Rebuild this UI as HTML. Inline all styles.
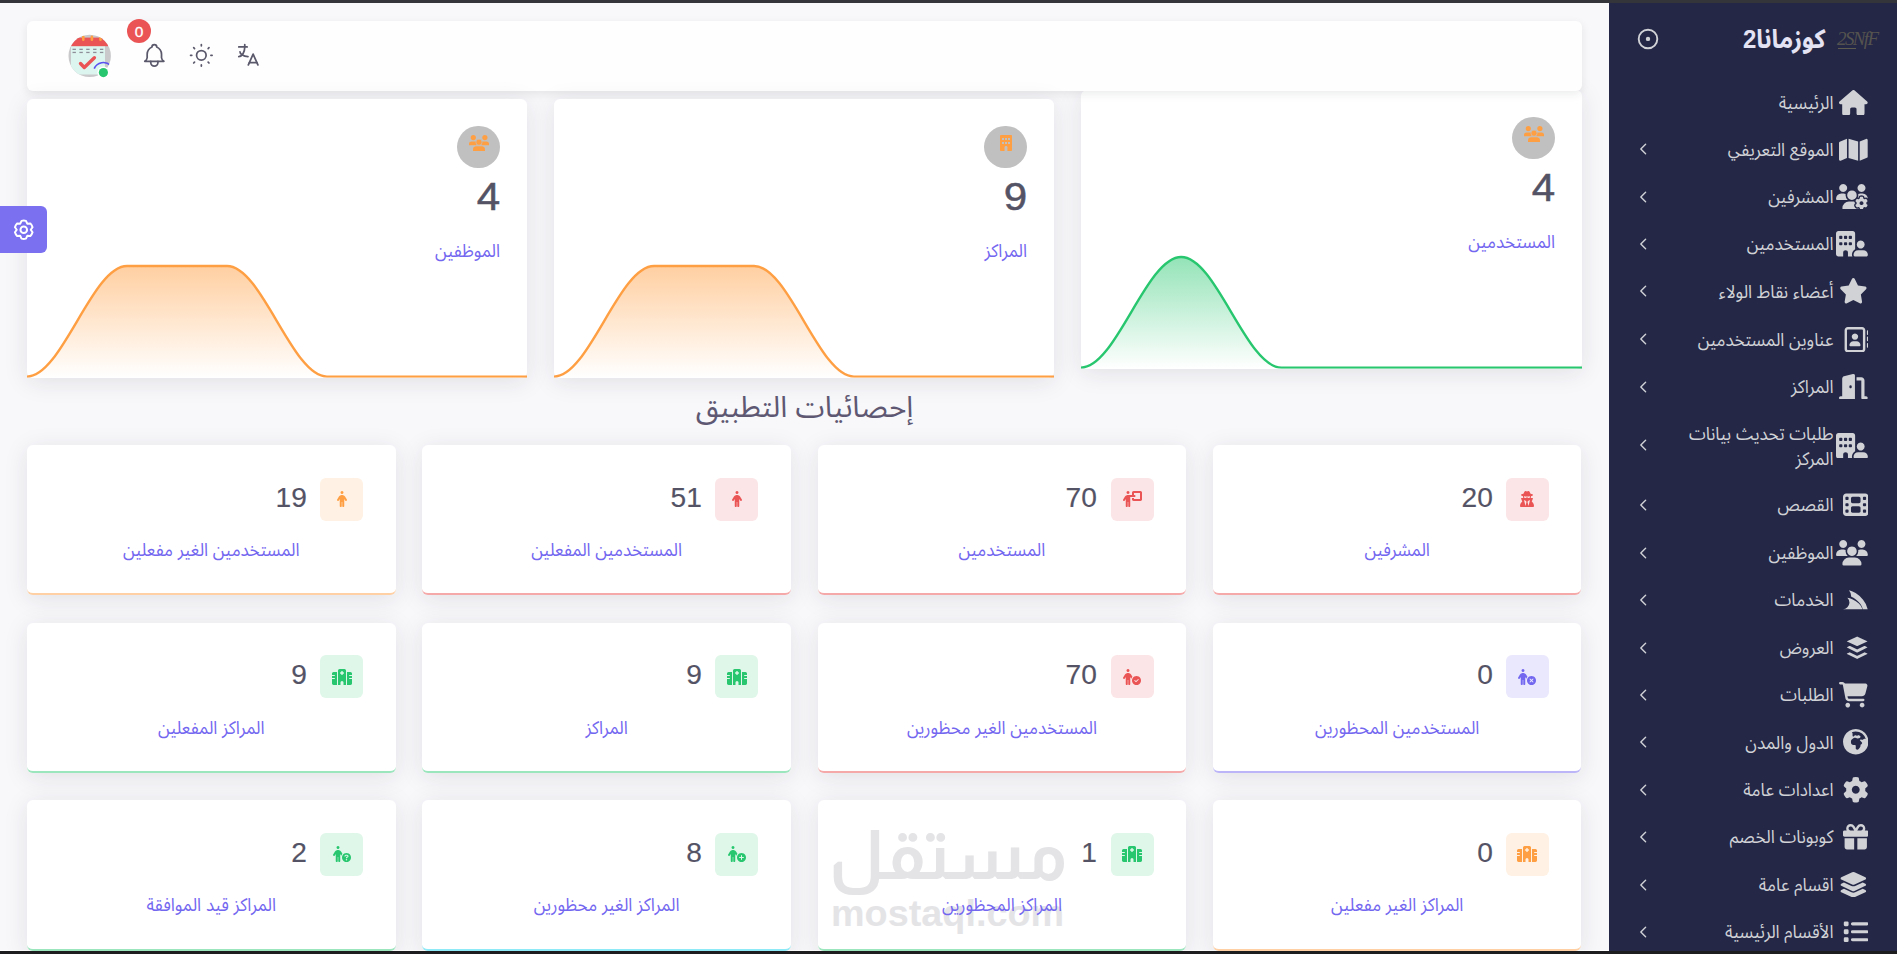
<!DOCTYPE html><html lang="ar" dir="rtl"><head><meta charset="utf-8"><title>لوحة التحكم</title>
<style>
*{box-sizing:border-box;margin:0;padding:0}
html,body{width:1897px;height:954px;overflow:hidden}
body{background:#f8f7fa;font-family:'Liberation Sans','Noto Sans Arabic UI','Noto Sans Arabic','DejaVu Sans',sans-serif;position:relative}
.abs{position:absolute;display:block;z-index:7}
.t{position:absolute;white-space:nowrap;line-height:1;direction:rtl;z-index:7}
.card{position:absolute;background:#fff;border-radius:6px;box-shadow:0 4px 24px 0 rgba(34,41,47,.1)}
.side{position:absolute;left:1609px;top:0;width:288px;height:954px;background:#242746}
.mi{color:#d0d2d6;font-size:17px;font-weight:370;transform:scaleY(1.07);transform-origin:50% 86%}
.lbl{color:#7367f0;font-size:17px;font-weight:370;transform:scaleY(1.07);transform-origin:50% 86%}
.num{color:#545366;font-family:'Liberation Sans',sans-serif;-webkit-text-stroke:0.15px #545366}
</style></head><body>
<div class="abs" style="left:0;top:950px;width:1609px;height:1px;background:#fff;z-index:0"></div>
<div class="card" style="left:27px;top:21px;width:1555px;height:70px;z-index:5;background:#fefefe;box-shadow:0 3px 10px 0 rgba(34,41,47,.09)">
</div>
<svg class="abs" style="left:67px;top:33px;z-index:6" width="46" height="46" viewBox="0 0 46 46">
<defs><clipPath id="avc"><circle cx="22.7" cy="22.9" r="21.2"/></clipPath></defs>
<circle cx="22.7" cy="22.9" r="21.2" fill="#c9c9cb"/>
<g clip-path="url(#avc)">
<rect x="4" y="13" width="34" height="28.5" fill="#dcf5ef"/>
<rect x="4" y="4.6" width="37" height="8.6" fill="#ea5455"/>
<rect x="15" y="2.5" width="2.6" height="5.5" rx="1.3" fill="#ff9f43"/>
<rect x="23.6" y="2.5" width="2.6" height="5.5" rx="1.3" fill="#ff9f43"/>
<rect x="32.2" y="2.5" width="2.6" height="5.5" rx="1.3" fill="#ff9f43"/>
<g fill="#8f8f9a"><rect x="5.5" y="15.7" width="3.4" height="1.3"/><rect x="12.4" y="15.7" width="3.4" height="1.3"/><rect x="19.2" y="15.7" width="3.4" height="1.3"/><rect x="26.1" y="15.7" width="3.4" height="1.3"/><rect x="32.9" y="15.7" width="3.4" height="1.3"/>
<rect x="5.5" y="18.8" width="3.4" height="1.3"/><rect x="12.4" y="18.8" width="3.4" height="1.3"/><rect x="19.2" y="18.8" width="3.4" height="1.3"/><rect x="26.1" y="18.8" width="3.4" height="1.3"/><rect x="32.9" y="18.8" width="3.4" height="1.3"/></g>
<path d="M13.5 30.5 L17.3 34.5 L27.4 24.8" stroke="#ea5455" stroke-width="3.4" fill="none" stroke-linecap="round" stroke-linejoin="round"/>
<path d="M27.2 35.6 A10 10 0 0 1 43.5 32.5" stroke="#5b50f0" stroke-width="1.7" fill="none"/>
</g>
<circle cx="36.4" cy="39.6" r="6" fill="#fff"/>
<circle cx="36.4" cy="39.6" r="4.6" fill="#28c76f"/>
</svg>
<div class="abs" style="left:127px;top:19.2px;width:24px;height:24px;border-radius:50%;background:#ea5455;z-index:7"></div>
<div class="t" style="left:127px;top:23.6px;width:24px;text-align:center;font-size:15.5px;font-weight:400;color:#fff;-webkit-text-stroke:0.3px #fff;z-index:8;direction:ltr">0</div>
<svg class="abs" style="left:139.55px;top:41.45px;z-index:6" width="28.7" height="28.7" viewBox="0 0 24 24" fill="none" stroke="#5a586b" stroke-width="1.45" stroke-linecap="round" stroke-linejoin="round"><path d="M10 5a2 2 0 1 1 4 0a7 7 0 0 1 4 6v3a4 4 0 0 0 2 3h-16a4 4 0 0 0 2 -3v-3a7 7 0 0 1 4 -6"/><path d="M9 17v1a3 3 0 0 0 6 0v-1"/></svg>
<svg class="abs" style="left:187.05px;top:41.25px;z-index:6" width="28.7" height="28.7" viewBox="0 0 24 24" fill="none" stroke="#5a586b" stroke-width="1.45" stroke-linecap="round" stroke-linejoin="round"><circle cx="12" cy="12" r="4"/><path d="M3 12h1m8 -9v1m8 8h1m-9 8v1m-6.4 -15.4l.7 .7m12.1 -.7l-.7 .7m0 11.4l.7 .7m-12.1 -.7l-.7 .7"/></svg>
<svg class="abs" style="left:234.15px;top:41.25px;z-index:6" width="28.7" height="28.7" viewBox="0 0 24 24" fill="none" stroke="#5a586b" stroke-width="1.45" stroke-linecap="round" stroke-linejoin="round"><path d="M4 5h7"/><path d="M9 3v2c0 4.418 -2.239 8 -5 8"/><path d="M5 9c0 2.144 2.952 3.908 6.7 4"/><path d="M12 20l4 -9l4 9"/><path d="M19.1 18h-6.2"/></svg>
<div class="abs" style="left:0;top:206px;width:47px;height:47px;background:#7a70f0;border-radius:0 6px 6px 0;z-index:9"></div>
<svg class="abs" style="left:11.25px;top:216.65px;z-index:10" width="25.5" height="25.5" viewBox="0 0 24 24" fill="none" stroke="#fff" stroke-width="1.9" stroke-linecap="round" stroke-linejoin="round"><path d="M8.70 6.28L9.92 3.66A8.6 8.6 0 0 1 14.08 3.66L15.30 6.28L18.19 6.03A8.6 8.6 0 0 1 20.27 9.63L18.60 12.00L20.27 14.37A8.6 8.6 0 0 1 18.19 17.97L15.30 17.72L14.08 20.34A8.6 8.6 0 0 1 9.92 20.34L8.70 17.72L5.81 17.97A8.6 8.6 0 0 1 3.73 14.37L5.40 12.00L3.73 9.63A8.6 8.6 0 0 1 5.81 6.03Z"/><circle cx="12" cy="12" r="3.1"/></svg>
<div class="card" style="left:27px;top:99px;width:500px;height:279px;z-index:6">
</div>
<div class="abs" style="left:457.25px;top:125.55px;width:42.5px;height:42.5px;border-radius:50%;background:#c0c0c0"></div>
<svg class="abs" style="left:468.80px;top:134.50px" width="20" height="16.4" viewBox="0 0 20 16.4"><g fill="#ff9f43"><circle cx="4.3" cy="2.6" r="2.6"/><circle cx="15.9" cy="2.6" r="2.6"/><path d="M0 10.2 V8.6 Q0 6.4 2.6 6.4 H6.6 Q8 6.4 8.4 7.4 Q7.6 8.6 7.6 10.2 Z"/><path d="M20 10.2 V8.6 Q20 6.4 17.4 6.4 H13.4 Q12 6.4 11.6 7.4 Q12.4 8.6 12.4 10.2 Z"/><circle cx="10" cy="7.2" r="3.1" stroke="#c0c0c0" stroke-width="0.7"/><path d="M4 16.4 V14.4 Q4 11.2 7.4 11.2 H12.6 Q16 11.2 16 14.4 V16.4 Z"/></g></svg>
<div class="t num" style="right:1396.50px;top:177.90px;font-size:38.3px;-webkit-text-stroke:0.5px #575669;direction:ltr;transform:scaleX(1.1);transform-origin:100% 50%">4</div>
<div class="t lbl" style="right:1397.00px;top:243.30px">الموظفين</div>
<svg class="abs" style="left:27px;top:262.30px;overflow:visible" width="500" height="115.80" viewBox="0 0 500 115.80"><defs><linearGradient id="g0" x1="0" y1="4" x2="0" y2="115.80" gradientUnits="userSpaceOnUse"><stop offset="0" stop-color="#ff9f43" stop-opacity="0.5"/><stop offset="1" stop-color="#ff9f43" stop-opacity="0"/></linearGradient><clipPath id="g0c"><rect x="0" y="-10" width="500" height="125.80"/></clipPath></defs><g clip-path="url(#g0c)"><path d="M0.00 114.60 C35.00 114.60 65.00 4.00 100.00 4.00 C135.00 4.00 165.00 4.00 200.00 4.00 C235.00 4.00 265.00 114.60 300.00 114.60 C335.00 114.60 365.00 114.60 400.00 114.60 C435.00 114.60 465.00 114.60 500.00 114.60 L500.00 115.80 L0 115.80 Z" fill="url(#g0)"/><path d="M0.00 114.60 C35.00 114.60 65.00 4.00 100.00 4.00 C135.00 4.00 165.00 4.00 200.00 4.00 C235.00 4.00 265.00 114.60 300.00 114.60 C335.00 114.60 365.00 114.60 400.00 114.60 C435.00 114.60 465.00 114.60 500.00 114.60" fill="none" stroke="#ff9f43" stroke-width="2.4" stroke-linecap="butt"/></g></svg>
<div class="card" style="left:554px;top:99px;width:500px;height:279px;z-index:6">
</div>
<div class="abs" style="left:984.25px;top:125.55px;width:42.5px;height:42.5px;border-radius:50%;background:#c0c0c0"></div>
<svg class="abs" style="left:999.50px;top:134.90px" width="12" height="16" viewBox="0 0 12 16"><rect x="0" y="0" width="12" height="16" rx="0.8" fill="#ff9f43"/><g fill="#c0c0c0"><rect x="2" y="3" width="2" height="2"/><rect x="5" y="3" width="2" height="2"/><rect x="8" y="3" width="2" height="2"/><rect x="2" y="7" width="2" height="2"/><rect x="5" y="7" width="2" height="2"/><rect x="8" y="7" width="2" height="2"/><path d="M4.6 16 V12.3 A1.4 1.4 0 0 1 7.4 12.3 V16 Z"/></g></svg>
<div class="t num" style="right:869.50px;top:177.90px;font-size:38.3px;-webkit-text-stroke:0.5px #575669;direction:ltr;transform:scaleX(1.1);transform-origin:100% 50%">9</div>
<div class="t lbl" style="right:870.00px;top:243.30px">المراكز</div>
<svg class="abs" style="left:554px;top:262.30px;overflow:visible" width="500" height="115.80" viewBox="0 0 500 115.80"><defs><linearGradient id="g1" x1="0" y1="4" x2="0" y2="115.80" gradientUnits="userSpaceOnUse"><stop offset="0" stop-color="#ff9f43" stop-opacity="0.5"/><stop offset="1" stop-color="#ff9f43" stop-opacity="0"/></linearGradient><clipPath id="g1c"><rect x="0" y="-10" width="500" height="125.80"/></clipPath></defs><g clip-path="url(#g1c)"><path d="M0.00 114.60 C35.00 114.60 65.00 4.00 100.00 4.00 C135.00 4.00 165.00 4.00 200.00 4.00 C235.00 4.00 265.00 114.60 300.00 114.60 C335.00 114.60 365.00 114.60 400.00 114.60 C435.00 114.60 465.00 114.60 500.00 114.60 L500.00 115.80 L0 115.80 Z" fill="url(#g1)"/><path d="M0.00 114.60 C35.00 114.60 65.00 4.00 100.00 4.00 C135.00 4.00 165.00 4.00 200.00 4.00 C235.00 4.00 265.00 114.60 300.00 114.60 C335.00 114.60 365.00 114.60 400.00 114.60 C435.00 114.60 465.00 114.60 500.00 114.60" fill="none" stroke="#ff9f43" stroke-width="2.4" stroke-linecap="butt"/></g></svg>
<div class="card" style="left:1081px;top:90px;width:501px;height:279px;z-index:4">
</div>
<div class="abs" style="left:1512.25px;top:116.55px;width:42.5px;height:42.5px;border-radius:50%;background:#c0c0c0"></div>
<svg class="abs" style="left:1523.80px;top:125.50px" width="20" height="16.4" viewBox="0 0 20 16.4"><g fill="#ff9f43"><circle cx="4.3" cy="2.6" r="2.6"/><circle cx="15.9" cy="2.6" r="2.6"/><path d="M0 10.2 V8.6 Q0 6.4 2.6 6.4 H6.6 Q8 6.4 8.4 7.4 Q7.6 8.6 7.6 10.2 Z"/><path d="M20 10.2 V8.6 Q20 6.4 17.4 6.4 H13.4 Q12 6.4 11.6 7.4 Q12.4 8.6 12.4 10.2 Z"/><circle cx="10" cy="7.2" r="3.1" stroke="#c0c0c0" stroke-width="0.7"/><path d="M4 16.4 V14.4 Q4 11.2 7.4 11.2 H12.6 Q16 11.2 16 14.4 V16.4 Z"/></g></svg>
<div class="t num" style="right:341.50px;top:168.90px;font-size:38.3px;-webkit-text-stroke:0.5px #575669;direction:ltr;transform:scaleX(1.1);transform-origin:100% 50%">4</div>
<div class="t lbl" style="right:342.00px;top:234.30px">المستخدمين</div>
<svg class="abs" style="left:1081px;top:253.30px;overflow:visible" width="501" height="115.80" viewBox="0 0 501 115.80"><defs><linearGradient id="g2" x1="0" y1="4" x2="0" y2="115.80" gradientUnits="userSpaceOnUse"><stop offset="0" stop-color="#28c76f" stop-opacity="0.5"/><stop offset="1" stop-color="#28c76f" stop-opacity="0"/></linearGradient><clipPath id="g2c"><rect x="0" y="-10" width="501" height="125.80"/></clipPath></defs><g clip-path="url(#g2c)"><path d="M0.00 114.60 C35.07 114.60 65.13 4.00 100.20 4.00 C135.27 4.00 165.33 114.60 200.40 114.60 C235.47 114.60 265.53 114.60 300.60 114.60 C335.67 114.60 365.73 114.60 400.80 114.60 C435.87 114.60 465.93 114.60 501.00 114.60 L501.00 115.80 L0 115.80 Z" fill="url(#g2)"/><path d="M0.00 114.60 C35.07 114.60 65.13 4.00 100.20 4.00 C135.27 4.00 165.33 114.60 200.40 114.60 C235.47 114.60 265.53 114.60 300.60 114.60 C335.67 114.60 365.73 114.60 400.80 114.60 C435.87 114.60 465.93 114.60 501.00 114.60" fill="none" stroke="#28c76f" stroke-width="2.4" stroke-linecap="butt"/></g></svg>
<div class="t" style="left:27px;width:1555px;text-align:center;top:392.1px;font-size:29.5px;color:#5e5873">إحصائيات التطبيق</div>
<div class="card" style="left:1212.99px;top:445px;width:368.5px;height:150px;border-bottom:2px solid #f6a9a9"></div>
<div class="abs" style="left:1505.99px;top:477.70px;width:43px;height:43px;border-radius:6px;background:#fce5e6"></div>
<svg class="abs" style="left:1520.49px;top:491.20px" width="14.00" height="16" viewBox="0 0 448 512"><path fill="#ea5455" d="M224 16Q215 15 209 10Q208 10 208 10Q201 2 176 0Q153 1 137 28Q120 54 110 89Q74 96 53 106Q32 116 32 128Q35 150 97 164Q96 170 96 176Q96 202 105 224H45Q33 225 32 237Q32 240 33 242L72 339Q39 364 20 401Q0 438 0 482Q0 495 9 503Q17 512 30 512H418Q431 512 439 503Q448 495 448 482Q448 438 428 401Q409 364 376 339L415 242Q416 240 416 237Q415 225 403 224H343Q352 202 352 176Q352 170 351 164Q413 150 416 128Q416 116 395 106Q374 96 338 89Q328 54 311 28Q295 1 272 0Q247 2 240 10Q240 10 240 10Q239 10 239 10Q233 15 224 16ZM280 224H268H280H268Q241 223 231 198Q229 193 224 193Q219 193 217 198Q207 223 181 224H168Q151 224 140 212Q128 201 128 184V170Q171 176 224 176Q277 176 320 170V184Q320 201 308 212Q297 224 280 224ZM192 320 208 352 192 320 208 352 176 480 128 288 192 320ZM320 288 272 480 320 288 272 480 240 352 256 320 320 288Z"/></svg>
<div class="t num" style="right:404.51px;top:484.50px;font-size:26.8px;direction:ltr;transform:scaleX(1.05);transform-origin:100% 50%">20</div>
<div class="t lbl" style="left:1212.99px;width:368.5px;text-align:center;top:542.40px">المشرفين</div>
<div class="card" style="left:817.66px;top:445px;width:368.5px;height:150px;border-bottom:2px solid #f6a9a9"></div>
<div class="abs" style="left:1110.66px;top:477.70px;width:43px;height:43px;border-radius:6px;background:#fce5e6"></div>
<svg class="abs" style="left:1121.66px;top:491.20px" width="20.00" height="16" viewBox="0 0 640 512"><path fill="#ea5455" d="M192 96Q219 95 234 72Q246 48 234 24Q219 1 192 0Q165 1 150 24Q138 48 150 72Q165 95 192 96ZM184 480V352V480V352H200V480Q200 494 209 503Q218 512 232 512Q246 512 255 503Q264 494 264 480V192H320H400Q414 192 423 183Q432 174 432 160Q432 146 423 137Q414 128 400 128H384V64H576V256H384V224H320V272Q321 292 334 306Q348 319 368 320H592Q612 319 626 306Q639 292 640 272V48Q639 28 626 14Q612 1 592 0H368Q348 1 334 14Q321 28 320 48V128H243H177Q151 128 130 140Q108 153 95 175L37 272Q30 283 33 296Q36 308 47 316Q59 322 72 319Q84 316 91 305L120 257V480Q120 494 129 503Q138 512 152 512Q166 512 175 503Q184 494 184 480Z"/></svg>
<div class="t num" style="right:799.84px;top:484.50px;font-size:26.8px;direction:ltr;transform:scaleX(1.05);transform-origin:100% 50%">70</div>
<div class="t lbl" style="left:817.66px;width:368.5px;text-align:center;top:542.40px">المستخدمين</div>
<div class="card" style="left:422.33px;top:445px;width:368.5px;height:150px;border-bottom:2px solid #f6a9a9"></div>
<div class="abs" style="left:715.33px;top:477.70px;width:43px;height:43px;border-radius:6px;background:#fce5e6"></div>
<svg class="abs" style="left:731.83px;top:491.20px" width="10.00" height="16" viewBox="0 0 320 512"><path fill="#ea5455" d="M112 48Q113 21 136 6Q160 -6 184 6Q207 21 208 48Q207 75 184 90Q160 102 136 90Q113 75 112 48ZM152 352V480V352V480Q152 494 143 503Q134 512 120 512Q106 512 97 503Q88 494 88 480V257L59 305Q52 316 40 319Q27 322 16 315Q4 308 1 296Q-2 283 5 272L63 175Q76 153 98 140Q120 128 145 128H175Q201 128 222 140Q244 153 257 175L316 272Q322 283 319 296Q316 308 305 315Q293 322 280 319Q268 316 261 305L232 257V480Q232 494 223 503Q214 512 200 512Q186 512 177 503Q168 494 168 480V352H152Z"/></svg>
<div class="t num" style="right:1195.17px;top:484.50px;font-size:26.8px;direction:ltr;transform:scaleX(1.05);transform-origin:100% 50%">51</div>
<div class="t lbl" style="left:422.33px;width:368.5px;text-align:center;top:542.40px">المستخدمين المفعلين</div>
<div class="card" style="left:27.00px;top:445px;width:368.5px;height:150px;border-bottom:2px solid #ffd0a3"></div>
<div class="abs" style="left:320.00px;top:477.70px;width:43px;height:43px;border-radius:6px;background:#fff1e3"></div>
<svg class="abs" style="left:336.50px;top:491.20px" width="10.00" height="16" viewBox="0 0 320 512"><path fill="#ff9f43" d="M112 48Q113 21 136 6Q160 -6 184 6Q207 21 208 48Q207 75 184 90Q160 102 136 90Q113 75 112 48ZM152 352V480V352V480Q152 494 143 503Q134 512 120 512Q106 512 97 503Q88 494 88 480V257L59 305Q52 316 40 319Q27 322 16 315Q4 308 1 296Q-2 283 5 272L63 175Q76 153 98 140Q120 128 145 128H175Q201 128 222 140Q244 153 257 175L316 272Q322 283 319 296Q316 308 305 315Q293 322 280 319Q268 316 261 305L232 257V480Q232 494 223 503Q214 512 200 512Q186 512 177 503Q168 494 168 480V352H152Z"/></svg>
<div class="t num" style="right:1590.50px;top:484.50px;font-size:26.8px;direction:ltr;transform:scaleX(1.05);transform-origin:100% 50%">19</div>
<div class="t lbl" style="left:27.00px;width:368.5px;text-align:center;top:542.40px">المستخدمين الغير مفعلين</div>
<div class="card" style="left:1212.99px;top:622.5px;width:368.5px;height:150px;border-bottom:2px solid #bcb6f8"></div>
<div class="abs" style="left:1505.99px;top:655.20px;width:43px;height:43px;border-radius:6px;background:#eae8fd"></div>
<svg class="abs" style="left:1518.49px;top:668.70px" width="18.00" height="16" viewBox="0 0 576 512"><path fill="#7367f0" d="M112 48Q113 21 136 6Q160 -6 184 6Q207 21 208 48Q207 75 184 90Q160 102 136 90Q113 75 112 48ZM152 352V480V352V480Q152 494 143 503Q134 512 120 512Q106 512 97 503Q88 494 88 480V257L59 305Q52 316 40 319Q27 322 16 315Q4 308 1 296Q-2 283 5 272L63 175Q76 153 98 140Q120 128 145 128H175Q201 128 222 140Q244 153 257 175L302 249Q278 276 266 311Q263 308 261 304L232 257V480Q232 494 223 503Q214 512 200 512Q186 512 177 503Q168 494 168 480V352H152ZM432 224Q471 224 504 243Q537 262 557 296Q576 330 576 368Q576 406 557 440Q537 474 504 493Q471 512 432 512Q393 512 360 493Q327 474 307 440Q288 406 288 368Q288 330 307 296Q327 262 360 243Q393 224 432 224ZM491 331Q501 320 491 309Q480 299 469 309L432 345L395 309Q384 299 373 309Q363 320 373 331L409 368L373 405Q363 416 373 427Q384 437 395 427L432 391L469 427Q480 437 491 427Q501 416 491 405L455 368L491 331Z"/></svg>
<div class="t num" style="right:404.51px;top:662.00px;font-size:26.8px;direction:ltr;transform:scaleX(1.05);transform-origin:100% 50%">0</div>
<div class="t lbl" style="left:1212.99px;width:368.5px;text-align:center;top:719.90px">المستخدمين المحظورين</div>
<div class="card" style="left:817.66px;top:622.5px;width:368.5px;height:150px;border-bottom:2px solid #f6a9a9"></div>
<div class="abs" style="left:1110.66px;top:655.20px;width:43px;height:43px;border-radius:6px;background:#fce5e6"></div>
<svg class="abs" style="left:1123.16px;top:668.70px" width="18.00" height="16" viewBox="0 0 576 512"><path fill="#ea5455" d="M112 48Q113 21 136 6Q160 -6 184 6Q207 21 208 48Q207 75 184 90Q160 102 136 90Q113 75 112 48ZM152 352V480V352V480Q152 494 143 503Q134 512 120 512Q106 512 97 503Q88 494 88 480V257L59 305Q52 316 40 319Q27 322 16 315Q4 308 1 296Q-2 283 5 272L63 175Q76 153 98 140Q120 128 145 128H175Q201 128 222 140Q244 153 257 175L302 249Q278 276 266 311Q263 308 261 304L232 257V480Q232 494 223 503Q214 512 200 512Q186 512 177 503Q168 494 168 480V352H152ZM288 368Q288 329 307 296Q326 263 360 243Q394 224 432 224Q470 224 504 243Q538 263 557 296Q576 329 576 368Q576 407 557 440Q538 473 504 493Q470 512 432 512Q394 512 360 493Q326 473 307 440Q288 407 288 368ZM499 325Q488 315 477 325L416 385L387 357Q376 347 365 357Q355 368 365 379L405 419Q416 429 427 419L499 347Q509 336 499 325Z"/></svg>
<div class="t num" style="right:799.84px;top:662.00px;font-size:26.8px;direction:ltr;transform:scaleX(1.05);transform-origin:100% 50%">70</div>
<div class="t lbl" style="left:817.66px;width:368.5px;text-align:center;top:719.90px">المستخدمين الغير محظورين</div>
<div class="card" style="left:422.33px;top:622.5px;width:368.5px;height:150px;border-bottom:2px solid #9be6bd"></div>
<div class="abs" style="left:715.33px;top:655.20px;width:43px;height:43px;border-radius:6px;background:#dff7e9"></div>
<svg class="abs" style="left:726.83px;top:668.70px" width="20.00" height="16" viewBox="0 0 640 512"><path fill="#28c76f" d="M192 48Q193 28 206 14Q220 1 240 0H400Q420 1 434 14Q447 28 448 48V512H368V432Q367 412 354 398Q340 385 320 384Q300 385 286 398Q273 412 272 432V512H192V48ZM48 96H160H48H160V512H48Q28 511 14 498Q1 484 0 464V320H80Q95 319 96 304Q95 289 80 288H0V224H80Q95 223 96 208Q95 193 80 192H0V144Q1 124 14 110Q28 97 48 96ZM592 96Q612 97 626 110Q639 124 640 144V192H560Q545 193 544 208Q545 223 560 224H640V288H560Q545 289 544 304Q545 319 560 320H640V464Q639 484 626 498Q612 511 592 512H480V96H592ZM312 64Q297 65 296 80V104H272Q257 105 256 120V136Q257 151 272 152H296V176Q297 191 312 192H328Q343 191 344 176V152H368Q383 151 384 136V120Q383 105 368 104H344V80Q343 65 328 64H312Z"/></svg>
<div class="t num" style="right:1195.17px;top:662.00px;font-size:26.8px;direction:ltr;transform:scaleX(1.05);transform-origin:100% 50%">9</div>
<div class="t lbl" style="left:422.33px;width:368.5px;text-align:center;top:719.90px">المراكز</div>
<div class="card" style="left:27.00px;top:622.5px;width:368.5px;height:150px;border-bottom:2px solid #9be6bd"></div>
<div class="abs" style="left:320.00px;top:655.20px;width:43px;height:43px;border-radius:6px;background:#dff7e9"></div>
<svg class="abs" style="left:331.50px;top:668.70px" width="20.00" height="16" viewBox="0 0 640 512"><path fill="#28c76f" d="M192 48Q193 28 206 14Q220 1 240 0H400Q420 1 434 14Q447 28 448 48V512H368V432Q367 412 354 398Q340 385 320 384Q300 385 286 398Q273 412 272 432V512H192V48ZM48 96H160H48H160V512H48Q28 511 14 498Q1 484 0 464V320H80Q95 319 96 304Q95 289 80 288H0V224H80Q95 223 96 208Q95 193 80 192H0V144Q1 124 14 110Q28 97 48 96ZM592 96Q612 97 626 110Q639 124 640 144V192H560Q545 193 544 208Q545 223 560 224H640V288H560Q545 289 544 304Q545 319 560 320H640V464Q639 484 626 498Q612 511 592 512H480V96H592ZM312 64Q297 65 296 80V104H272Q257 105 256 120V136Q257 151 272 152H296V176Q297 191 312 192H328Q343 191 344 176V152H368Q383 151 384 136V120Q383 105 368 104H344V80Q343 65 328 64H312Z"/></svg>
<div class="t num" style="right:1590.50px;top:662.00px;font-size:26.8px;direction:ltr;transform:scaleX(1.05);transform-origin:100% 50%">9</div>
<div class="t lbl" style="left:27.00px;width:368.5px;text-align:center;top:719.90px">المراكز المفعلين</div>
<div class="card" style="left:1212.99px;top:800px;width:368.5px;height:151px;border-bottom:2px solid #ffd0a3"></div>
<div class="abs" style="left:1505.99px;top:832.70px;width:43px;height:43px;border-radius:6px;background:#fff1e3"></div>
<svg class="abs" style="left:1517.49px;top:846.20px" width="20.00" height="16" viewBox="0 0 640 512"><path fill="#ff9f43" d="M192 48Q193 28 206 14Q220 1 240 0H400Q420 1 434 14Q447 28 448 48V512H368V432Q367 412 354 398Q340 385 320 384Q300 385 286 398Q273 412 272 432V512H192V48ZM48 96H160H48H160V512H48Q28 511 14 498Q1 484 0 464V320H80Q95 319 96 304Q95 289 80 288H0V224H80Q95 223 96 208Q95 193 80 192H0V144Q1 124 14 110Q28 97 48 96ZM592 96Q612 97 626 110Q639 124 640 144V192H560Q545 193 544 208Q545 223 560 224H640V288H560Q545 289 544 304Q545 319 560 320H640V464Q639 484 626 498Q612 511 592 512H480V96H592ZM312 64Q297 65 296 80V104H272Q257 105 256 120V136Q257 151 272 152H296V176Q297 191 312 192H328Q343 191 344 176V152H368Q383 151 384 136V120Q383 105 368 104H344V80Q343 65 328 64H312Z"/></svg>
<div class="t num" style="right:404.51px;top:839.50px;font-size:26.8px;direction:ltr;transform:scaleX(1.05);transform-origin:100% 50%">0</div>
<div class="t lbl" style="left:1212.99px;width:368.5px;text-align:center;top:897.40px">المراكز الغير مفعلين</div>
<div class="card" style="left:817.66px;top:800px;width:368.5px;height:151px;border-bottom:2px solid #9be6bd"></div>
<div class="abs" style="left:1110.66px;top:832.70px;width:43px;height:43px;border-radius:6px;background:#dff7e9"></div>
<svg class="abs" style="left:1122.16px;top:846.20px" width="20.00" height="16" viewBox="0 0 640 512"><path fill="#28c76f" d="M192 48Q193 28 206 14Q220 1 240 0H400Q420 1 434 14Q447 28 448 48V512H368V432Q367 412 354 398Q340 385 320 384Q300 385 286 398Q273 412 272 432V512H192V48ZM48 96H160H48H160V512H48Q28 511 14 498Q1 484 0 464V320H80Q95 319 96 304Q95 289 80 288H0V224H80Q95 223 96 208Q95 193 80 192H0V144Q1 124 14 110Q28 97 48 96ZM592 96Q612 97 626 110Q639 124 640 144V192H560Q545 193 544 208Q545 223 560 224H640V288H560Q545 289 544 304Q545 319 560 320H640V464Q639 484 626 498Q612 511 592 512H480V96H592ZM312 64Q297 65 296 80V104H272Q257 105 256 120V136Q257 151 272 152H296V176Q297 191 312 192H328Q343 191 344 176V152H368Q383 151 384 136V120Q383 105 368 104H344V80Q343 65 328 64H312Z"/></svg>
<div class="t num" style="right:799.84px;top:839.50px;font-size:26.8px;direction:ltr;transform:scaleX(1.05);transform-origin:100% 50%">1</div>
<div class="t lbl" style="left:817.66px;width:368.5px;text-align:center;top:897.40px">المراكز المحظورين</div>
<div class="card" style="left:422.33px;top:800px;width:368.5px;height:151px;border-bottom:2px solid #8eeaf6"></div>
<div class="abs" style="left:715.33px;top:832.70px;width:43px;height:43px;border-radius:6px;background:#dff7e9"></div>
<svg class="abs" style="left:727.83px;top:846.20px" width="18.00" height="16" viewBox="0 0 576 512"><path fill="#28c76f" d="M112 48Q113 21 136 6Q160 -6 184 6Q207 21 208 48Q207 75 184 90Q160 102 136 90Q113 75 112 48ZM152 352V480V352V480Q152 494 143 503Q134 512 120 512Q106 512 97 503Q88 494 88 480V257L59 305Q52 316 40 319Q27 322 16 315Q4 308 1 296Q-2 283 5 272L63 175Q76 153 98 140Q120 128 145 128H175Q201 128 222 140Q244 153 257 175L302 249Q278 276 266 311Q263 308 261 304L232 257V480Q232 494 223 503Q214 512 200 512Q186 512 177 503Q168 494 168 480V352H152ZM432 224Q471 224 504 243Q537 262 557 296Q576 330 576 368Q576 406 557 440Q537 474 504 493Q471 512 432 512Q393 512 360 493Q327 474 307 440Q288 406 288 368Q288 330 307 296Q327 262 360 243Q393 224 432 224ZM448 304Q447 289 432 288Q417 289 416 304V352H368Q353 353 352 368Q353 383 368 384H416V432Q417 447 432 448Q447 447 448 432V384H496Q511 383 512 368Q511 353 496 352H448V304Z"/></svg>
<div class="t num" style="right:1195.17px;top:839.50px;font-size:26.8px;direction:ltr;transform:scaleX(1.05);transform-origin:100% 50%">8</div>
<div class="t lbl" style="left:422.33px;width:368.5px;text-align:center;top:897.40px">المراكز الغير محظورين</div>
<div class="card" style="left:27.00px;top:800px;width:368.5px;height:151px;border-bottom:2px solid #9be6bd"></div>
<div class="abs" style="left:320.00px;top:832.70px;width:43px;height:43px;border-radius:6px;background:#dff7e9"></div>
<svg class="abs" style="left:332.50px;top:846.20px" width="18.00" height="16" viewBox="0 0 576 512"><path fill="#28c76f" d="M112 48Q113 21 136 6Q160 -6 184 6Q207 21 208 48Q207 75 184 90Q160 102 136 90Q113 75 112 48ZM152 352V480V352V480Q152 494 143 503Q134 512 120 512Q106 512 97 503Q88 494 88 480V257L59 305Q52 316 40 319Q27 322 16 315Q4 308 1 296Q-2 283 5 272L63 175Q76 153 98 140Q120 128 145 128H175Q201 128 222 140Q244 153 257 175L302 249Q278 276 266 311Q263 308 261 304L232 257V480Q232 494 223 503Q214 512 200 512Q186 512 177 503Q168 494 168 480V352H152ZM432 224Q471 224 504 243Q537 262 557 296Q576 330 576 368Q576 406 557 440Q537 474 504 493Q471 512 432 512Q393 512 360 493Q327 474 307 440Q288 406 288 368Q288 330 307 296Q327 262 360 243Q393 224 432 224ZM432 464Q454 462 456 440Q454 418 432 416Q410 418 408 440Q410 462 432 464ZM368 322V328V322V328Q369 343 384 344Q399 343 400 328V322Q401 313 410 312H450Q463 313 464 326Q464 334 457 338L425 355Q416 360 416 369V384Q417 399 432 400Q447 399 448 384V379L472 367Q495 353 496 326Q496 306 483 294Q470 281 450 280H410Q392 281 380 292Q368 304 368 322Z"/></svg>
<div class="t num" style="right:1590.50px;top:839.50px;font-size:26.8px;direction:ltr;transform:scaleX(1.05);transform-origin:100% 50%">2</div>
<div class="t lbl" style="left:27.00px;width:368.5px;text-align:center;top:897.40px">المراكز قيد الموافقة</div>
<div class="t" style="left:828.9px;top:821.2px;font-family:'Almarai','Noto Sans Arabic UI',sans-serif;font-weight:700;font-size:68px;color:#e4e4e7;z-index:6;direction:rtl">مستقل</div>
<div class="t" style="left:831.1px;top:896.4px;font-family:'Liberation Sans',sans-serif;font-weight:700;font-size:36px;color:#e4e4e7;z-index:6;direction:ltr;transform:scaleX(1.05);transform-origin:0 0">mostaql.com</div>
<div class="side"></div>
<div class="t" style="right:71.5px;top:25.6px;font-size:24px;font-weight:700;color:#e4e3f3;transform:scaleY(1.1);transform-origin:50% 0">كوزمانا2</div>
<div class="t" style="left:1837px;top:28.5px;font-family:'Liberation Serif',serif;font-style:italic;font-size:19px;color:#55534f;letter-spacing:-1.6px;direction:ltr">2SNfF</div>
<div class="abs" style="left:1838px;top:47.5px;width:18px;height:1px;background:#5d5a4f"></div>
<svg class="abs" style="left:1636px;top:27px" width="24" height="24" viewBox="0 0 24 24"><circle cx="12" cy="12" r="9.3" fill="none" stroke="#d0d2d6" stroke-width="1.9"/><circle cx="12" cy="11.9" r="2.2" fill="#d0d2d6"/></svg>
<div class="t mi" style="right:63.5px;top:94.80px">الرئيسية</div>
<svg class="abs" style="left:1839.31px;top:89.75px" width="28.69" height="25.5" viewBox="0 0 576 512"><path fill="#d0d2d6" d="M576 256Q575 269 566 278Q557 287 544 288H512L513 448Q512 452 512 456V472Q512 489 500 500Q489 512 472 512H456Q454 512 453 512Q451 512 449 512H416H392Q375 512 364 500Q352 489 352 472V448V384Q352 370 343 361Q334 352 320 352H256Q242 352 233 361Q224 370 224 384V448V472Q224 489 212 500Q201 512 184 512H160H128Q127 512 126 512Q125 512 124 512Q122 512 120 512H104Q87 512 76 500Q64 489 64 472V360Q64 359 64 357V288H32Q18 287 9 278Q0 269 0 256Q0 242 10 232L266 8Q277 -1 288 0Q300 0 309 7L565 232Q577 242 576 256Z"/></svg>
<div class="t mi" style="right:63.5px;top:141.60px">الموقع التعريفي</div>
<svg class="abs" style="left:1839.31px;top:136.55px" width="28.69" height="25.5" viewBox="0 0 576 512"><path fill="#d0d2d6" d="M384 476 192 421 384 476 192 421V36L384 91V476ZM416 475V88V475V88L543 38Q556 33 565 40Q575 47 576 60V395Q575 410 561 417L416 475ZM15 95 160 37 15 95 160 37V424L33 475Q20 479 11 472Q1 465 0 452V117Q1 102 15 95Z"/></svg>
<svg class="abs" style="left:1638px;top:142.30px" width="10" height="14" viewBox="0 0 10 14"><polyline points="7.6,2.2 2.8,7 7.6,11.8" fill="none" stroke="#d0d2d6" stroke-width="1.4" stroke-linecap="round" stroke-linejoin="round"/></svg>
<div class="t mi" style="right:63.5px;top:188.90px">المشرفين</div>
<svg class="abs" style="left:1836.12px;top:183.85px" width="31.88" height="25.5" viewBox="0 0 640 512"><path fill="#d0d2d6" d="M144 160Q189 159 213 120Q235 80 213 40Q189 1 144 0Q99 1 75 40Q53 80 75 120Q99 159 144 160ZM512 160Q557 159 581 120Q603 80 581 40Q557 1 512 0Q467 1 443 40Q421 80 443 120Q467 159 512 160ZM0 299Q2 318 21 320H235Q235 320 235 320Q235 320 235 320Q194 283 192 224Q192 213 194 202Q173 192 149 192H107Q61 193 31 223Q1 253 0 299ZM320 320Q357 319 383 297Q386 291 391 286Q395 281 400 278Q416 254 416 224Q415 183 388 156Q361 129 320 128Q279 129 252 156Q225 183 224 224Q225 265 252 292Q279 319 320 320ZM385 380Q369 371 365 352H261Q205 353 167 391Q129 429 128 485Q130 510 155 512H455Q452 504 452 496V493Q450 492 448 490L445 492Q432 499 417 497Q402 495 391 482Q384 474 378 465V464L376 460H375Q370 450 366 440Q361 424 367 410Q373 396 385 388L388 386Q388 385 388 384Q388 383 388 382L385 380ZM533 192H491H533H491Q467 192 446 202Q448 213 448 224Q448 250 438 273Q442 274 445 276L448 278Q450 277 452 276V273Q452 257 461 245Q471 233 488 230Q500 228 512 228Q524 228 536 230Q553 233 563 245Q572 257 572 273V276Q574 277 576 278L579 276Q592 269 607 271Q622 273 633 286Q637 290 640 295Q637 251 607 222Q578 193 533 192ZM625 356Q635 349 631 338Q628 330 624 322L622 318Q617 310 611 304Q603 295 592 301L590 302Q575 310 560 301Q545 292 544 276V272Q543 260 532 258Q522 256 512 256Q502 256 492 258Q481 260 480 272V276Q479 292 464 301Q449 310 434 302L431 301Q421 295 412 304Q407 310 402 318L400 322Q396 330 392 338Q389 349 399 356L402 358Q416 367 416 384Q416 401 402 410L399 412Q389 419 392 430Q395 438 400 446L402 450Q407 457 412 464Q420 473 431 467L434 466Q449 458 464 467Q479 475 480 492V495Q480 507 492 510Q502 512 512 512Q522 512 532 510Q543 507 544 495V492Q545 475 560 467Q575 458 589 466L592 467Q603 473 611 464Q617 457 621 450L624 446Q628 438 631 430Q635 418 625 412L622 410Q608 401 608 384Q608 367 622 357L625 356ZM472 384Q473 361 492 349Q512 339 532 349Q551 361 552 384Q551 407 532 419Q512 429 492 419Q473 407 472 384Z"/></svg>
<svg class="abs" style="left:1638px;top:189.60px" width="10" height="14" viewBox="0 0 10 14"><polyline points="7.6,2.2 2.8,7 7.6,11.8" fill="none" stroke="#d0d2d6" stroke-width="1.4" stroke-linecap="round" stroke-linejoin="round"/></svg>
<div class="t mi" style="right:63.5px;top:236.20px">المستخدمين</div>
<svg class="abs" style="left:1836.12px;top:231.15px" width="31.88" height="25.5" viewBox="0 0 640 512"><path fill="#d0d2d6" d="M48 0Q28 1 14 14Q1 28 0 48V464Q1 484 14 498Q28 511 48 512H144V432Q145 412 158 398Q172 385 192 384Q212 385 226 398Q239 412 240 432V512H330Q320 496 320 477Q320 441 338 413Q355 384 384 368V272V48Q383 28 370 14Q356 1 336 0H48ZM64 240Q65 225 80 224H112Q127 225 128 240V272Q127 287 112 288H80Q65 287 64 272V240ZM176 224H208H176H208Q223 225 224 240V272Q223 287 208 288H176Q161 287 160 272V240Q161 225 176 224ZM256 240Q257 225 272 224H304Q319 225 320 240V272Q319 287 304 288H272Q257 287 256 272V240ZM80 96H112H80H112Q127 97 128 112V144Q127 159 112 160H80Q65 159 64 144V112Q65 97 80 96ZM160 112Q161 97 176 96H208Q223 97 224 112V144Q223 159 208 160H176Q161 159 160 144V112ZM272 96H304H272H304Q319 97 320 112V144Q319 159 304 160H272Q257 159 256 144V112Q257 97 272 96ZM576 272Q575 227 536 203Q496 181 456 203Q417 227 416 272Q417 317 456 341Q496 363 536 341Q575 317 576 272ZM352 477Q352 492 362 502Q372 512 387 512H605Q620 512 630 502Q640 492 640 477Q639 438 613 411Q586 385 547 384H445Q406 385 379 411Q353 438 352 477Z"/></svg>
<svg class="abs" style="left:1638px;top:236.90px" width="10" height="14" viewBox="0 0 10 14"><polyline points="7.6,2.2 2.8,7 7.6,11.8" fill="none" stroke="#d0d2d6" stroke-width="1.4" stroke-linecap="round" stroke-linejoin="round"/></svg>
<div class="t mi" style="right:63.5px;top:283.50px">أعضاء نقاط الولاء</div>
<svg class="abs" style="left:1839.31px;top:278.45px" width="28.69" height="25.5" viewBox="0 0 576 512"><path fill="#d0d2d6" d="M317 18Q308 1 288 0Q269 1 259 18L195 150L51 172Q32 175 26 193Q20 212 34 226L138 329L113 475Q111 494 126 506Q142 517 160 508L288 440L417 508Q434 517 450 506Q466 494 463 475L439 329L543 226Q556 212 551 193Q544 175 525 172L381 150L317 18Z"/></svg>
<svg class="abs" style="left:1638px;top:284.20px" width="10" height="14" viewBox="0 0 10 14"><polyline points="7.6,2.2 2.8,7 7.6,11.8" fill="none" stroke="#d0d2d6" stroke-width="1.4" stroke-linecap="round" stroke-linejoin="round"/></svg>
<div class="t mi" style="right:63.5px;top:331.60px">عناوين المستخدمين</div>
<svg class="abs" style="left:1842.50px;top:326.55px" width="25.50" height="25.5" viewBox="0 0 512 512"><path fill="#d0d2d6" d="M384 48Q399 49 400 64V448Q399 463 384 464H96Q81 463 80 448V64Q81 49 96 48H384ZM96 0Q69 1 51 19Q33 37 32 64V448Q33 475 51 493Q69 511 96 512H384Q411 511 429 493Q447 475 448 448V64Q447 37 429 19Q411 1 384 0H96ZM240 256Q276 255 295 224Q313 192 295 160Q276 129 240 128Q204 129 185 160Q167 192 185 224Q204 255 240 256ZM208 288Q174 289 151 311Q129 334 128 368Q129 383 144 384H336Q351 383 352 368Q351 334 329 311Q306 289 272 288H208ZM512 80Q511 65 496 64Q481 65 480 80V144Q481 159 496 160Q511 159 512 144V80ZM496 192Q481 193 480 208V272Q481 287 496 288Q511 287 512 272V208Q511 193 496 192ZM512 336Q511 321 496 320Q481 321 480 336V400Q481 415 496 416Q511 415 512 400V336Z"/></svg>
<svg class="abs" style="left:1638px;top:332.30px" width="10" height="14" viewBox="0 0 10 14"><polyline points="7.6,2.2 2.8,7 7.6,11.8" fill="none" stroke="#d0d2d6" stroke-width="1.4" stroke-linecap="round" stroke-linejoin="round"/></svg>
<div class="t mi" style="right:63.5px;top:378.80px">المراكز</div>
<svg class="abs" style="left:1839.31px;top:373.75px" width="28.69" height="25.5" viewBox="0 0 576 512"><path fill="#d0d2d6" d="M320 32Q320 16 308 7Q295 -2 280 1L100 46Q84 50 74 63Q64 76 64 93V448H32Q18 448 9 457Q0 466 0 480Q0 494 9 503Q18 512 32 512H96H320V480V32ZM256 256Q256 270 249 279Q242 288 232 288Q222 288 215 279Q208 270 208 256Q208 242 215 233Q222 224 232 224Q242 224 249 233Q256 242 256 256ZM352 128H448H352H448V480Q448 494 457 503Q466 512 480 512H544Q558 512 567 503Q576 494 576 480Q576 466 567 457Q558 448 544 448H512V128Q511 101 493 83Q475 65 448 64H352V128Z"/></svg>
<svg class="abs" style="left:1638px;top:379.50px" width="10" height="14" viewBox="0 0 10 14"><polyline points="7.6,2.2 2.8,7 7.6,11.8" fill="none" stroke="#d0d2d6" stroke-width="1.4" stroke-linecap="round" stroke-linejoin="round"/></svg>
<div class="t mi" style="right:63.5px;top:425.80px">طلبات تحديث بيانات</div>
<div class="t mi" style="right:63.5px;top:450.60px">المركز</div>
<svg class="abs" style="left:1836.12px;top:432.95px" width="31.88" height="25.5" viewBox="0 0 640 512"><path fill="#d0d2d6" d="M48 0Q28 1 14 14Q1 28 0 48V464Q1 484 14 498Q28 511 48 512H144V432Q145 412 158 398Q172 385 192 384Q212 385 226 398Q239 412 240 432V512H330Q320 496 320 477Q320 441 338 413Q355 384 384 368V272V48Q383 28 370 14Q356 1 336 0H48ZM64 240Q65 225 80 224H112Q127 225 128 240V272Q127 287 112 288H80Q65 287 64 272V240ZM176 224H208H176H208Q223 225 224 240V272Q223 287 208 288H176Q161 287 160 272V240Q161 225 176 224ZM256 240Q257 225 272 224H304Q319 225 320 240V272Q319 287 304 288H272Q257 287 256 272V240ZM80 96H112H80H112Q127 97 128 112V144Q127 159 112 160H80Q65 159 64 144V112Q65 97 80 96ZM160 112Q161 97 176 96H208Q223 97 224 112V144Q223 159 208 160H176Q161 159 160 144V112ZM272 96H304H272H304Q319 97 320 112V144Q319 159 304 160H272Q257 159 256 144V112Q257 97 272 96ZM576 272Q575 227 536 203Q496 181 456 203Q417 227 416 272Q417 317 456 341Q496 363 536 341Q575 317 576 272ZM352 477Q352 492 362 502Q372 512 387 512H605Q620 512 630 502Q640 492 640 477Q639 438 613 411Q586 385 547 384H445Q406 385 379 411Q353 438 352 477Z"/></svg>
<svg class="abs" style="left:1638px;top:438.00px" width="10" height="14" viewBox="0 0 10 14"><polyline points="7.6,2.2 2.8,7 7.6,11.8" fill="none" stroke="#d0d2d6" stroke-width="1.4" stroke-linecap="round" stroke-linejoin="round"/></svg>
<div class="t mi" style="right:63.5px;top:497.00px">القصص</div>
<svg class="abs" style="left:1842.50px;top:491.95px" width="25.50" height="25.5" viewBox="0 0 512 512"><path fill="#d0d2d6" d="M0 96Q1 69 19 51Q37 33 64 32H448Q475 33 493 51Q511 69 512 96V416Q511 443 493 461Q475 479 448 480H64Q37 479 19 461Q1 443 0 416V96ZM48 368V400V368V400Q49 415 64 416H96Q111 415 112 400V368Q111 353 96 352H64Q49 353 48 368ZM416 352Q401 353 400 368V400Q401 415 416 416H448Q463 415 464 400V368Q463 353 448 352H416ZM48 240V272V240V272Q49 287 64 288H96Q111 287 112 272V240Q111 225 96 224H64Q49 225 48 240ZM416 224Q401 225 400 240V272Q401 287 416 288H448Q463 287 464 272V240Q463 225 448 224H416ZM48 112V144V112V144Q49 159 64 160H96Q111 159 112 144V112Q111 97 96 96H64Q49 97 48 112ZM416 96Q401 97 400 112V144Q401 159 416 160H448Q463 159 464 144V112Q463 97 448 96H416ZM160 128V192V128V192Q160 206 169 215Q178 224 192 224H320Q334 224 343 215Q352 206 352 192V128Q352 114 343 105Q334 96 320 96H192Q178 96 169 105Q160 114 160 128ZM192 288Q178 288 169 297Q160 306 160 320V384Q160 398 169 407Q178 416 192 416H320Q334 416 343 407Q352 398 352 384V320Q352 306 343 297Q334 288 320 288H192Z"/></svg>
<svg class="abs" style="left:1638px;top:497.70px" width="10" height="14" viewBox="0 0 10 14"><polyline points="7.6,2.2 2.8,7 7.6,11.8" fill="none" stroke="#d0d2d6" stroke-width="1.4" stroke-linecap="round" stroke-linejoin="round"/></svg>
<div class="t mi" style="right:63.5px;top:545.20px">الموظفين</div>
<svg class="abs" style="left:1836.12px;top:540.15px" width="31.88" height="25.5" viewBox="0 0 640 512"><path fill="#d0d2d6" d="M144 0Q189 1 213 40Q235 80 213 120Q189 159 144 160Q99 159 75 120Q53 80 75 40Q99 1 144 0ZM512 0Q557 1 581 40Q603 80 581 120Q557 159 512 160Q467 159 443 120Q421 80 443 40Q467 1 512 0ZM0 299Q1 253 31 223Q61 193 107 192H149Q173 192 194 202Q192 213 192 224Q194 283 235 320Q235 320 235 320Q235 320 235 320H21Q2 318 0 299ZM405 320Q405 320 405 320Q405 320 405 320Q446 283 448 224Q448 213 446 202Q467 192 491 192H533Q579 193 609 223Q639 253 640 299Q638 318 619 320H405ZM224 224Q224 198 237 176Q250 154 272 141Q295 128 320 128Q345 128 368 141Q390 154 403 176Q416 198 416 224Q416 250 403 272Q390 294 368 307Q345 320 320 320Q295 320 272 307Q250 294 237 272Q224 250 224 224ZM128 485Q129 429 167 391Q205 353 261 352H379Q435 353 473 391Q511 429 512 485Q510 510 485 512H155Q130 510 128 485Z"/></svg>
<svg class="abs" style="left:1638px;top:545.90px" width="10" height="14" viewBox="0 0 10 14"><polyline points="7.6,2.2 2.8,7 7.6,11.8" fill="none" stroke="#d0d2d6" stroke-width="1.4" stroke-linecap="round" stroke-linejoin="round"/></svg>
<div class="t mi" style="right:63.5px;top:592.30px">الخدمات</div>
<svg class="abs" style="left:1843.30px;top:587.25px" width="24.70" height="25.5" viewBox="0 0 496 512"><path fill="#d0d2d6" d="M88 216Q131 222 196 252Q261 282 318 332Q374 383 392 448H0Q51 443 88 405Q126 368 130 317Q135 265 88 216ZM120 64Q168 120 166 198Q209 215 258 249Q307 284 346 334Q386 384 400 448H496Q473 339 403 256Q334 172 254 122Q174 72 120 64Z"/></svg>
<svg class="abs" style="left:1638px;top:593.00px" width="10" height="14" viewBox="0 0 10 14"><polyline points="7.6,2.2 2.8,7 7.6,11.8" fill="none" stroke="#d0d2d6" stroke-width="1.4" stroke-linecap="round" stroke-linejoin="round"/></svg>
<div class="t mi" style="right:63.5px;top:639.90px">العروض</div>
<svg class="abs" style="left:1845.69px;top:634.85px" width="22.31" height="25.5" viewBox="0 0 448 512"><path fill="#d0d2d6" d="M428 381 231 478 428 381 231 478Q224 482 217 478L20 381Q14 377 20 373L67 350Q75 347 82 350L217 417Q224 420 231 417L366 350Q373 347 381 350L428 373Q434 377 428 381ZM428 244 381 221 428 244 381 221Q373 218 366 221L231 288Q224 291 217 288L82 221Q75 218 67 221L20 244Q14 248 20 251L217 349Q224 352 231 349L428 251Q434 248 428 244ZM20 130 217 221 20 130 217 221Q224 223 231 221L428 130Q434 127 428 124L231 33Q224 31 217 33L20 124Q14 127 20 130Z"/></svg>
<svg class="abs" style="left:1638px;top:640.60px" width="10" height="14" viewBox="0 0 10 14"><polyline points="7.6,2.2 2.8,7 7.6,11.8" fill="none" stroke="#d0d2d6" stroke-width="1.4" stroke-linecap="round" stroke-linejoin="round"/></svg>
<div class="t mi" style="right:63.5px;top:687.40px">الطلبات</div>
<svg class="abs" style="left:1839.31px;top:682.35px" width="28.69" height="25.5" viewBox="0 0 576 512"><path fill="#d0d2d6" d="M0 24Q2 2 24 0H70Q104 2 120 32H531Q551 33 563 48Q574 63 570 82L529 235Q522 259 503 273Q484 288 459 288H171L176 317Q181 335 200 336H488Q510 338 512 360Q510 382 488 384H200Q173 384 154 367Q134 351 129 326L77 55Q76 48 70 48H24Q2 46 0 24ZM128 464Q129 437 152 422Q176 410 200 422Q223 437 224 464Q223 491 200 506Q176 518 152 506Q129 491 128 464ZM464 416Q491 417 506 440Q518 464 506 488Q491 511 464 512Q437 511 422 488Q410 464 422 440Q437 417 464 416Z"/></svg>
<svg class="abs" style="left:1638px;top:688.10px" width="10" height="14" viewBox="0 0 10 14"><polyline points="7.6,2.2 2.8,7 7.6,11.8" fill="none" stroke="#d0d2d6" stroke-width="1.4" stroke-linecap="round" stroke-linejoin="round"/></svg>
<div class="t mi" style="right:63.5px;top:734.50px">الدول والمدن</div>
<svg class="abs" style="left:1842.50px;top:729.45px" width="25.50" height="25.5" viewBox="0 0 512 512"><path fill="#d0d2d6" d="M178 63 188 81 178 63 188 81Q192 88 192 97V138Q192 144 196 148Q208 158 218 147L232 130Q240 121 252 126L267 133Q272 136 278 136Q288 136 295 129L299 125Q304 120 310 123L339 138Q351 144 352 158Q351 175 335 180L299 189Q288 192 277 188L245 178Q240 176 235 176Q224 176 215 182L176 212Q160 224 160 244V272Q161 292 174 306Q188 319 208 320H240Q255 321 256 336V384Q256 398 265 407Q274 416 288 416Q304 416 314 403L339 369Q352 352 352 331V319Q352 312 358 310L364 309Q383 303 384 283Q384 272 376 264L343 231Q337 224 343 217Q352 209 364 212L379 217Q399 222 410 204Q416 193 429 195L456 200Q437 133 383 91Q329 49 256 48Q214 48 178 63ZM0 256Q1 186 34 128Q68 70 128 34Q189 0 256 0Q323 0 384 34Q444 70 478 128Q511 186 512 256Q511 326 478 384Q444 442 384 478Q323 512 256 512Q189 512 128 478Q68 442 34 384Q1 326 0 256Z"/></svg>
<svg class="abs" style="left:1638px;top:735.20px" width="10" height="14" viewBox="0 0 10 14"><polyline points="7.6,2.2 2.8,7 7.6,11.8" fill="none" stroke="#d0d2d6" stroke-width="1.4" stroke-linecap="round" stroke-linejoin="round"/></svg>
<div class="t mi" style="right:63.5px;top:782.10px">اعدادات عامة</div>
<svg class="abs" style="left:1842.50px;top:777.05px" width="25.50" height="25.5" viewBox="0 0 512 512"><path fill="#d0d2d6" d="M496 167Q500 181 490 191L446 231Q448 243 448 256Q448 269 446 281L490 321Q500 331 496 345Q489 363 480 380L475 388Q465 404 453 419Q443 430 429 426L373 408Q353 424 329 433L317 491Q313 505 298 508Q278 512 256 512Q234 512 213 508Q199 505 195 491L183 433Q159 424 139 408L83 426Q69 430 59 419Q46 404 37 388L32 380Q23 363 16 346Q12 331 22 321L66 282Q64 269 64 256Q64 243 66 231L22 191Q12 181 16 167Q23 149 32 132L37 124Q46 108 59 93Q69 82 83 86L139 104Q159 88 183 78L195 21Q199 7 214 4Q234 0 256 0Q278 0 299 4Q313 7 317 21L329 78Q353 88 373 104L429 86Q443 82 453 93Q466 108 476 124L480 132Q489 149 496 167ZM256 336Q301 335 325 296Q347 256 325 216Q301 177 256 176Q211 177 187 216Q165 256 187 296Q211 335 256 336Z"/></svg>
<svg class="abs" style="left:1638px;top:782.80px" width="10" height="14" viewBox="0 0 10 14"><polyline points="7.6,2.2 2.8,7 7.6,11.8" fill="none" stroke="#d0d2d6" stroke-width="1.4" stroke-linecap="round" stroke-linejoin="round"/></svg>
<div class="t mi" style="right:63.5px;top:829.20px">كوبونات الخصم</div>
<svg class="abs" style="left:1842.50px;top:824.15px" width="25.50" height="25.5" viewBox="0 0 512 512"><path fill="#d0d2d6" d="M191 69 225 128 191 69 225 128H224H152Q135 128 124 116Q112 105 112 88Q112 71 124 60Q135 48 152 48H154Q178 49 191 69ZM64 88Q64 110 74 128H32Q18 128 9 137Q0 146 0 160V224Q0 238 9 247Q18 256 32 256H480Q494 256 503 247Q512 238 512 224V160Q512 146 503 137Q494 128 480 128H438Q448 110 448 88Q447 51 422 26Q397 1 360 0H358Q307 2 280 44L256 86L232 45Q205 2 154 0H152Q115 1 90 26Q65 51 64 88ZM400 88Q400 105 388 116Q377 128 360 128H288H287L322 69Q334 49 358 48H360Q377 48 388 60Q400 71 400 88ZM32 288V464V288V464Q33 484 46 498Q60 511 80 512H224V288H32ZM288 512H432H288H432Q452 511 466 498Q479 484 480 464V288H288V512Z"/></svg>
<svg class="abs" style="left:1638px;top:829.90px" width="10" height="14" viewBox="0 0 10 14"><polyline points="7.6,2.2 2.8,7 7.6,11.8" fill="none" stroke="#d0d2d6" stroke-width="1.4" stroke-linecap="round" stroke-linejoin="round"/></svg>
<div class="t mi" style="right:63.5px;top:876.80px">اقسام عامة</div>
<svg class="abs" style="left:1839.31px;top:871.75px" width="28.69" height="25.5" viewBox="0 0 576 512"><path fill="#d0d2d6" d="M265 5Q288 -5 312 5L530 106Q543 113 544 128Q543 143 530 150L311 251Q288 261 264 251L46 150Q33 143 32 128Q33 113 46 106L265 5ZM477 210 530 234 477 210 530 234Q543 241 544 256Q543 271 530 278L311 379Q288 389 264 379L46 278Q33 271 32 256Q33 241 46 234L99 210L251 280Q288 296 325 280L477 210ZM325 408 477 338 325 408 477 338 530 362Q543 369 544 384Q543 399 530 406L311 507Q288 517 264 507L46 406Q33 399 32 384Q33 369 46 362L99 338L251 408Q288 424 325 408Z"/></svg>
<svg class="abs" style="left:1638px;top:877.50px" width="10" height="14" viewBox="0 0 10 14"><polyline points="7.6,2.2 2.8,7 7.6,11.8" fill="none" stroke="#d0d2d6" stroke-width="1.4" stroke-linecap="round" stroke-linejoin="round"/></svg>
<div class="t mi" style="right:63.5px;top:923.90px">الأقسام الرئيسية</div>
<svg class="abs" style="left:1842.50px;top:918.85px" width="25.50" height="25.5" viewBox="0 0 512 512"><path fill="#d0d2d6" d="M40 48Q18 50 16 72V120Q18 142 40 144H88Q110 142 112 120V72Q110 50 88 48H40ZM192 64Q178 64 169 73Q160 82 160 96Q160 110 169 119Q178 128 192 128H480Q494 128 503 119Q512 110 512 96Q512 82 503 73Q494 64 480 64H192ZM192 224Q178 224 169 233Q160 242 160 256Q160 270 169 279Q178 288 192 288H480Q494 288 503 279Q512 270 512 256Q512 242 503 233Q494 224 480 224H192ZM192 384Q178 384 169 393Q160 402 160 416Q160 430 169 439Q178 448 192 448H480Q494 448 503 439Q512 430 512 416Q512 402 503 393Q494 384 480 384H192ZM16 232V280V232V280Q18 302 40 304H88Q110 302 112 280V232Q110 210 88 208H40Q18 210 16 232ZM40 368Q18 370 16 392V440Q18 462 40 464H88Q110 462 112 440V392Q110 370 88 368H40Z"/></svg>
<svg class="abs" style="left:1638px;top:924.60px" width="10" height="14" viewBox="0 0 10 14"><polyline points="7.6,2.2 2.8,7 7.6,11.8" fill="none" stroke="#d0d2d6" stroke-width="1.4" stroke-linecap="round" stroke-linejoin="round"/></svg>
<div class="abs" style="left:0;top:0;width:1897px;height:3px;background:#34353b;z-index:50"></div>
<div class="abs" style="left:0;top:951px;width:1897px;height:3px;background:#1d1d20;z-index:50"></div>
</body></html>
